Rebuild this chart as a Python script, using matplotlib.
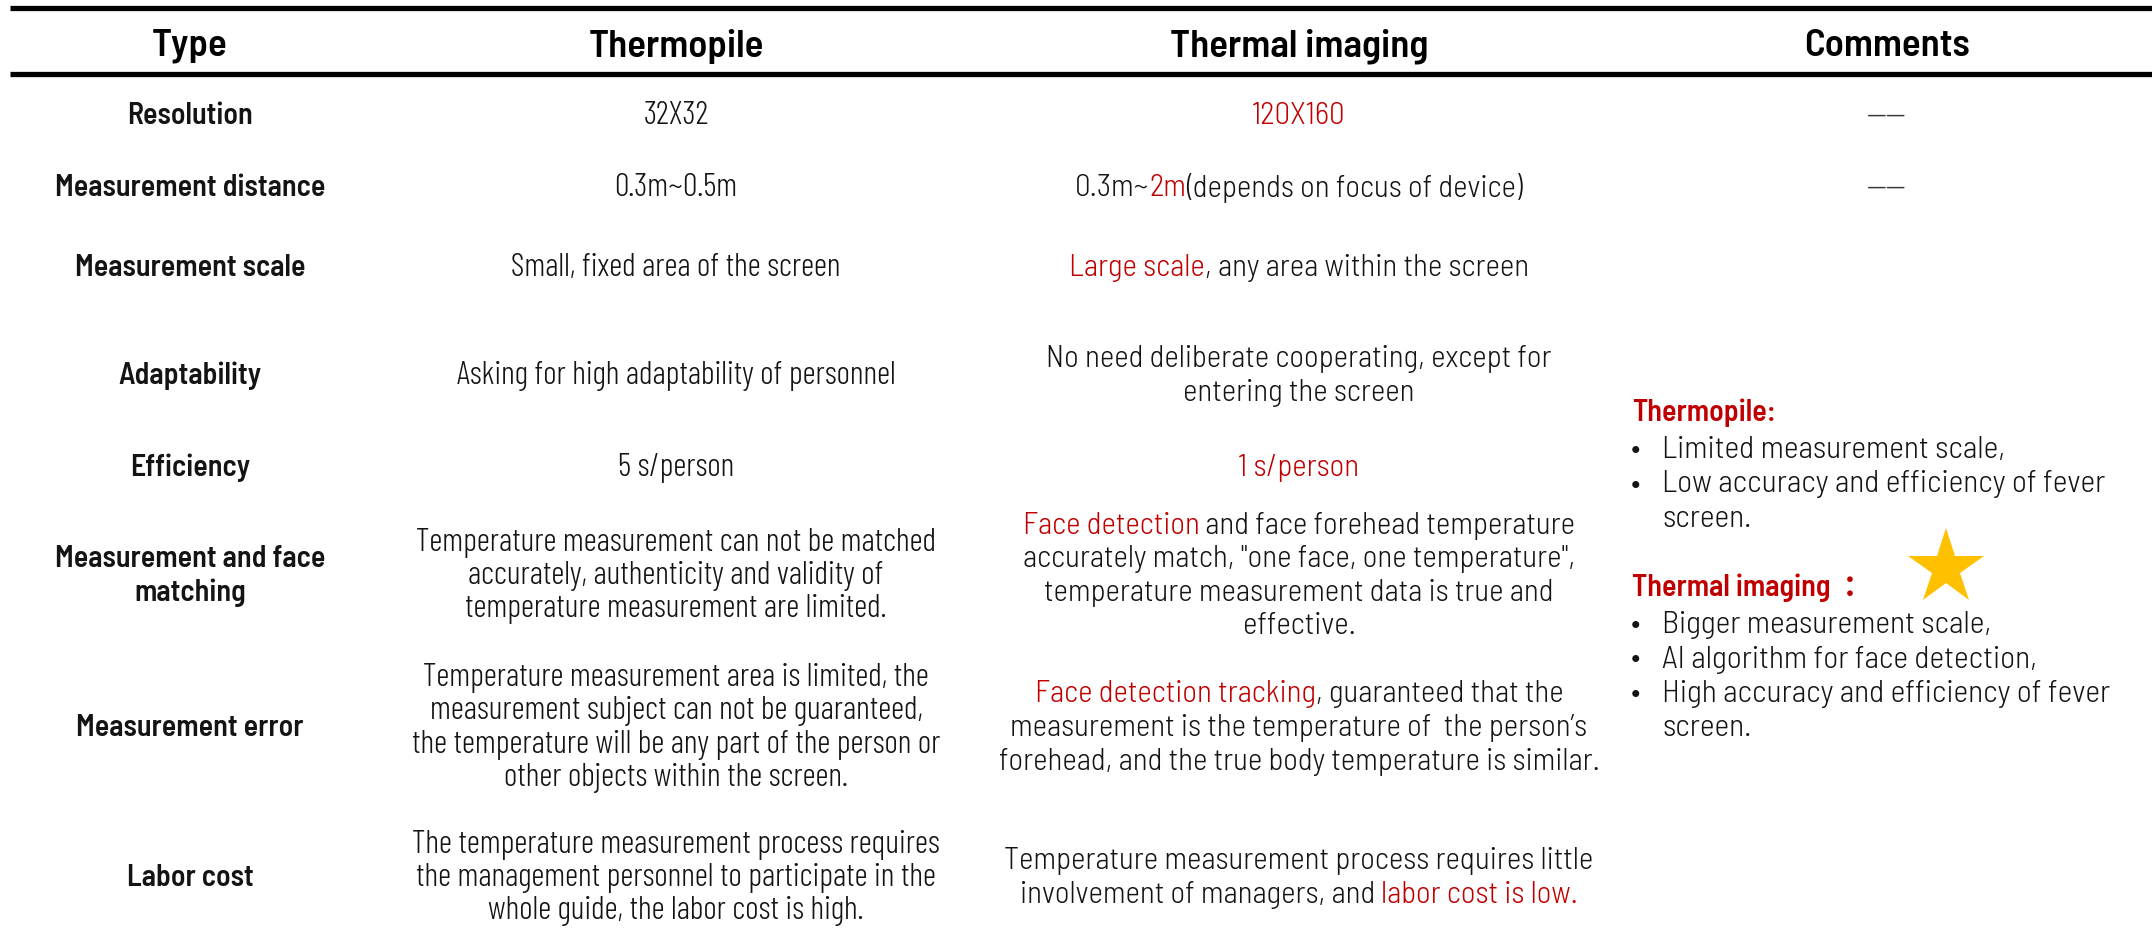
import matplotlib
matplotlib.use("Agg")
import matplotlib.pyplot as plt

RED = "#C00000"
INK = "#141414"

# table content
headers = ["Type", "Thermopile", "Thermal imaging", "Comments"]

row_labels = [
    ["Resolution"],
    ["Measurement distance"],
    ["Measurement scale"],
    ["Adaptability"],
    ["Efficiency"],
    ["Measurement and face", "matching"],
    ["Measurement error"],
    ["Labor cost"],
]

thermopile = [
    ["32X32"],
    ["0.3m~0.5m"],
    ["Small, fixed area of the screen"],
    ["Asking for high adaptability of personnel"],
    ["5 s/person"],
    ["Temperature measurement can not be matched",
     "accurately, authenticity and validity of",
     "temperature measurement are limited."],
    ["Temperature measurement area is limited, the",
     "measurement subject can not be guaranteed,",
     "the temperature will be any part of the person or",
     "other objects within the screen."],
    ["The temperature measurement process requires",
     "the management personnel to participate in the",
     "whole guide, the labor cost is high."],
]

# each line is a list of (text, highlighted) pieces
thermal = [
    [[("120X160", True)]],
    [[("0.3m~", False), ("2m", True), ("(depends on focus of device)", False)]],
    [[("Large scale", True), (", any area within the screen", False)]],
    [[("No need deliberate cooperating, except for", False)],
     [("entering the screen", False)]],
    [[("1 s/person", True)]],
    [[("Face detection", True), (" and face forehead temperature", False)],
     [("accurately match, \"one face, one temperature\",", False)],
     [("temperature measurement data is true and", False)],
     [("effective.", False)]],
    [[("Face detection tracking", True), (", guaranteed that the", False)],
     [("measurement is the temperature of  the person\u2019s", False)],
     [("forehead, and the true body temperature is similar.", False)]],
    [[("Temperature measurement process requires little", False)],
     [("involvement of managers, and ", False), ("labor cost is low.", True)]],
]

comments_short = ["\u2014\u2014", "\u2014\u2014"]

thermopile_note = ["Limited measurement scale,",
                   ["Low accuracy and efficiency of fever", "screen."]]
thermal_note = ["Bigger measurement scale,",
                "AI algorithm for face detection,",
                ["High accuracy and efficiency of fever", "screen."]]

# layout (pixels)
W, H = 2152, 943
col_x = [190, 676, 1299, 1887]
row_y = [116, 188, 268, 376, 468, 576, 728, 878]
lh = 33.5

fig = plt.figure(figsize=(W / 100, H / 100), dpi=100)
ax = fig.add_axes([0, 0, 1, 1])
ax.set_xlim(0, W)
ax.set_ylim(H, 0)
ax.axis("off")
renderer = fig.canvas.get_renderer()

head_font = dict(family="Barlow Semi Condensed", fontweight=600, fontsize=28)
label_font = dict(family="Barlow Semi Condensed", fontweight=600, fontsize=21.5)
body_font = dict(family="Barlow Condensed", fontweight=300, fontsize=23.5)
wide_font = dict(family="Barlow Semi Condensed", fontweight=300, fontsize=22.3)
note_font = dict(family="Barlow Semi Condensed", fontweight=300, fontsize=22.8)
note_head = dict(family=["Barlow Semi Condensed", "Noto Sans CJK SC"], fontweight=600, fontsize=21.5)


def rich_line(x, y, pieces, **font):
    # draw a centred line made of differently coloured pieces
    texts = [ax.text(0, y, s, color=RED if hl else INK, ha="left", va="center", **font)
             for s, hl in pieces]
    widths = [t.get_window_extent(renderer).width for t in texts]
    x0 = x - sum(widths) / 2
    for t, w in zip(texts, widths):
        t.set_x(x0)
        x0 += w


def block(x, yc, lines, **font):
    n = len(lines)
    for i, ln in enumerate(lines):
        y = yc + (i - (n - 1) / 2) * lh
        if isinstance(ln, str):
            ln = [(ln, False)]
        rich_line(x, y, ln, **font)


# rules
ax.plot([10, W], [8, 8], color="black", lw=3.8, solid_capstyle="butt")
ax.plot([10, W], [74, 74], color="black", lw=3.8, solid_capstyle="butt")

for x, h in zip(col_x, headers):
    ax.text(x, 46, h, ha="center", va="center", color="black", **head_font)

for i, y in enumerate(row_y):
    block(col_x[0], y, row_labels[i], **label_font)
    block(col_x[1], y, thermopile[i], **body_font)
    block(col_x[2], y, thermal[i], **wide_font)

for y, s in zip(row_y[:2], comments_short):
    ax.text(col_x[3], y, s, ha="center", va="center", color="#333333", **wide_font)


# comments block
def note(y, title, items):
    ax.text(1632, y, title, ha="left", va="center", color=RED, **note_head)
    y += 37
    for it in items:
        lines = it if isinstance(it, list) else [it]
        ax.text(1631, y, "\u2022", ha="left", va="center", color=INK, **note_font)
        for ln in lines:
            ax.text(1662, y, ln, ha="left", va="center", color=INK, **note_font)
            y += 34.5


note(413, "Thermopile:", thermopile_note)
note(588, "Thermal imaging  \uff1a", thermal_note)
ax.plot(1946, 568, marker="*", ms=57, color="#FFC000", mew=0)

fig.savefig("out.png", dpi=100)
